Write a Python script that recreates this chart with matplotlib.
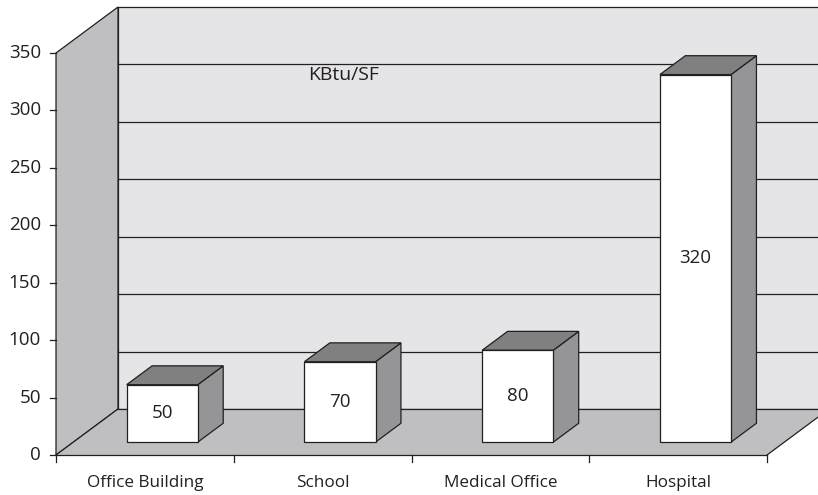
import matplotlib
matplotlib.use("Agg")
import matplotlib.pyplot as plt
from matplotlib.patches import Polygon

# data
categories = ["Office Building", "School", "Medical Office", "Hospital"]
values = [50, 70, 80, 320]
y_ticks = [0, 50, 100, 150, 200, 250, 300, 350]
unit_label = "KBtu/SF"

plt.rcParams["font.family"] = ["Open Sans", "DejaVu Sans"]

# layout (pixel based, converted to data units)
W, H = 818, 495
X0_PX, Y0_PX = 56, 40          # origin (left axis, value 0) from bottom-left
CAT_PX = 177.75                # pixels per category
VAL_PX = 1.1486                # pixels per value unit
DX = 62 / CAT_PX               # depth offset of back wall
DY = 46 / VAL_PX
YMAX = 350
F0, F1 = 0.28, 0.69            # bar depth range (fraction of full depth)
BAR_W = 0.4

LINE = "#231f20"
WALL_BACK = "#e5e5e7"
WALL_SIDE = "#bfbfc1"
FLOOR = "#bfbfc1"
BAR_TOP = "#808080"
BAR_SIDE = "#959597"

fig = plt.figure(figsize=(W / 100, H / 100), dpi=100)
ax = fig.add_axes([0, 0, 1, 1])
ax.set_xlim(-X0_PX / CAT_PX, (W - X0_PX) / CAT_PX)
ax.set_ylim(-Y0_PX / VAL_PX, (H - Y0_PX) / VAL_PX)
ax.axis("off")

n = len(categories)
xr = ax.get_xlim()[1] + 0.1


def proj(x, y, d):
    return (x + d * DX, y + d * DY)


def poly(pts, fc, z=1):
    ax.add_patch(Polygon(pts, closed=True, facecolor=fc, edgecolor=LINE,
                         linewidth=0.9, joinstyle="miter", zorder=z))


# back wall
poly([proj(0, 0, 1), (xr, DY), (xr, YMAX + DY), proj(0, YMAX, 1)], WALL_BACK, 1)
# left wall
poly([(0, 0), proj(0, 0, 1), proj(0, YMAX, 1), (0, YMAX)], WALL_SIDE, 2)
# floor
ax.add_patch(Polygon([(0, 0), (n, 0), proj(n, 0, 1), (xr, DY), proj(0, 0, 1)],
                     closed=True, facecolor=FLOOR, edgecolor="none", zorder=2))
ax.plot([0, n], [0, 0], color=LINE, lw=0.9, zorder=3)
ax.plot(*zip((n, 0), proj(n, 0, 1)), color=LINE, lw=0.9, zorder=3)
ax.plot(*zip((0, 0), proj(0, 0, 1)), color=LINE, lw=0.9, zorder=3)
ax.plot([DX, xr], [DY, DY], color=LINE, lw=0.9, zorder=3)

# gridlines on the back wall
for t in y_ticks[1:-1]:
    ax.plot([DX, xr], [t + DY, t + DY], color=LINE, lw=0.9, zorder=2)

# y axis ticks
for t in y_ticks:
    ax.plot([-6 / CAT_PX, 0], [t, t], color=LINE, lw=0.9, zorder=3)
    ax.text(-15 / CAT_PX, t, str(t), ha="right", va="center", fontsize=13.5, color=LINE)

# x axis ticks and labels
for i in range(n + 1):
    ax.plot([i, i], [0, -7 / VAL_PX], color=LINE, lw=0.9, zorder=3)
for i, c in enumerate(categories):
    ax.text(i + 0.5, -28 / VAL_PX, c, ha="center", va="center", fontsize=12.3, color=LINE)

# bars
for i, v in enumerate(values):
    xa, xb = i + 0.5 - BAR_W / 2, i + 0.5 + BAR_W / 2
    side = [proj(xb, 0, F0), proj(xb, 0, F1), proj(xb, v, F1), proj(xb, v, F0)]
    top = [proj(xa, v, F0), proj(xb, v, F0), proj(xb, v, F1), proj(xa, v, F1)]
    front = [proj(xa, 0, F0), proj(xb, 0, F0), proj(xb, v, F0), proj(xa, v, F0)]
    poly(side, BAR_SIDE, 4)
    poly(top, BAR_TOP, 4)
    poly(front, "white", 5)
    cx, cy = proj(i + 0.5, v / 2, F0)
    ax.text(cx, cy, str(v), ha="center", va="center", fontsize=13.5, color=LINE, zorder=6)

# unit label on the back wall
ax.text(1.62, 331, unit_label, ha="center", va="center", fontsize=14, color=LINE, zorder=3)

fig.savefig("out.png", dpi=100)
